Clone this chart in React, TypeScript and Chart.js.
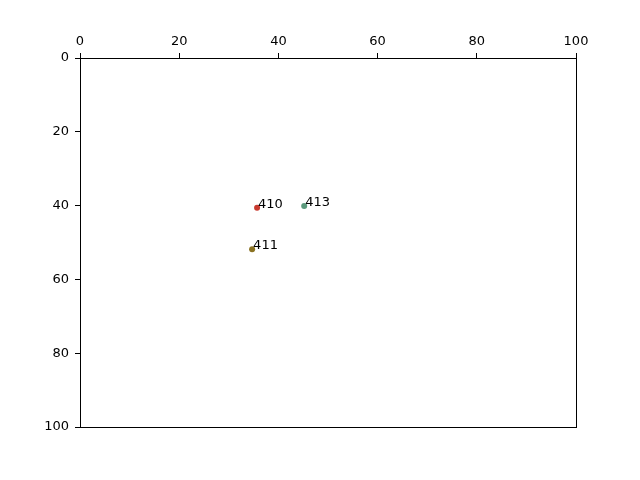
import { useEffect, useRef } from "react";
import { Chart, registerables } from "chart.js";

Chart.register(...registerables);

const pointLabels = ["410", "413", "411"];
const xValues = [35.7, 45.2, 34.7];
const yValues = [40.6, 40.1, 51.8];
const pointColors = ["#c93a2f", "#5c9a7d", "#8a7222"];

const FONT = "'DejaVu Sans', sans-serif";

const framePlugin = {
  id: "frame",
  afterDraw(chart: any) {
    const { ctx, chartArea } = chart;
    ctx.save();
    ctx.strokeStyle = "#000";
    ctx.lineWidth = 1;
    ctx.strokeRect(
      Math.round(chartArea.left) + 0.5,
      Math.round(chartArea.top) + 0.5,
      Math.round(chartArea.right - chartArea.left),
      Math.round(chartArea.bottom - chartArea.top)
    );
    ctx.restore();
  },
};

const labelPlugin = {
  id: "pointText",
  afterDatasetsDraw(chart: any) {
    const { ctx } = chart;
    const meta = chart.getDatasetMeta(0);
    ctx.save();
    ctx.font = `13px ${FONT}`;
    ctx.fillStyle = "#000";
    ctx.textAlign = "left";
    ctx.textBaseline = "alphabetic";
    meta.data.forEach((el: any, i: number) => {
      ctx.fillText(pointLabels[i], el.x + 1, el.y);
    });
    ctx.restore();
  },
};

export default function App() {
  const ref = useRef<HTMLCanvasElement>(null);
  useEffect(() => {
    if (!ref.current) return;
    const chart = new Chart(ref.current, {
      type: "scatter",
      data: {
        datasets: [
          {
            data: xValues.map((x, i) => ({ x, y: yValues[i] })),
            backgroundColor: pointColors,
            borderColor: pointColors,
            pointRadius: 3,
            pointHoverRadius: 3,
            borderWidth: 0,
          },
        ],
      },
      options: {
        responsive: false,
        animation: false,
        layout: { padding: { left: 0, top: 0, right: 64, bottom: 53 } },
        plugins: { legend: { display: false }, tooltip: { enabled: false } },
        scales: {
          x: {
            type: "linear",
            position: "top",
            min: 0,
            max: 100,
            ticks: { stepSize: 20, color: "#000", font: { family: FONT, size: 13 }, padding: 4 },
            grid: { drawOnChartArea: false, tickLength: 5, tickColor: "#000" },
            border: { color: "#000" },
            afterFit: (s: any) => { s.height = 58; },
          },
          y: {
            type: "linear",
            reverse: true,
            min: 0,
            max: 100,
            ticks: { stepSize: 20, color: "#000", font: { family: FONT, size: 13 }, padding: 6 },
            grid: { drawOnChartArea: false, tickLength: 5, tickColor: "#000" },
            border: { color: "#000" },
            afterFit: (s: any) => { s.width = 80; },
          },
        },
      },
      plugins: [framePlugin, labelPlugin],
    });
    return () => chart.destroy();
  }, []);
  return (
    <div style={{ position: "absolute", left: 0, top: 0, width: 640, height: 480, background: "#fff" }}>
      <canvas ref={ref} width={640} height={480} />
    </div>
  );
}
